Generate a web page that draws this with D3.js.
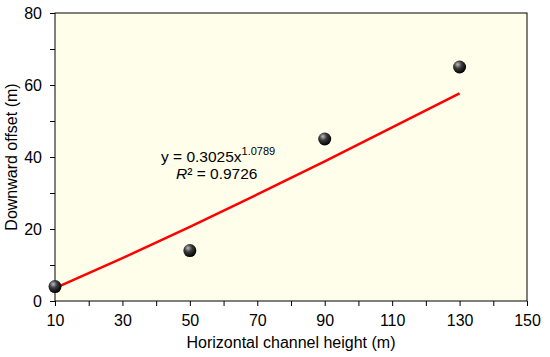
<!DOCTYPE html>
<html>
<head>
<meta charset="utf-8">
<script src="https://cdn.jsdelivr.net/npm/d3@7"></script>
<style>
  body { margin: 0; background: #fff; }
  text { font-family: "Liberation Sans", Arial, sans-serif; fill: #000; }
</style>
</head>
<body>
<div id="chart"></div>
<script>
'use strict';

var heights = [10, 50, 90, 130];
var offsets = [4, 14, 45, 65];
// trendline points as drawn (y = 0.3025x^1.0789)
var fitX = [10, 30, 50, 70, 90, 110, 130];
var fitY = [3.6, 11.9, 20.6, 29.6, 38.8, 48.2, 57.7];
var xTicks = [10, 30, 50, 70, 90, 110, 130, 150];
var yTicks = [0, 20, 40, 60, 80];

var width = 550, height = 357;
var margin = { top: 13, right: 23, bottom: 56, left: 55 };

var svg = d3.select('#chart').append('svg')
    .attr('width', width)
    .attr('height', height);

var defs = svg.append('defs');
var grad = defs.append('radialGradient')
    .attr('id', 'ball')
    .attr('cx', '40%').attr('cy', '35%').attr('r', '65%')
    .attr('fx', '35%').attr('fy', '30%');
grad.append('stop').attr('offset', '0%').attr('stop-color', '#bdbdbd');
grad.append('stop').attr('offset', '45%').attr('stop-color', '#3a3a3a');
grad.append('stop').attr('offset', '100%').attr('stop-color', '#000');

var x = d3.scaleLinear().domain([10, 150]).range([margin.left, width - margin.right]);
var y = d3.scaleLinear().domain([0, 80]).range([height - margin.bottom, margin.top]);

svg.append('rect')
    .attr('x', x(10)).attr('y', y(80))
    .attr('width', x(150) - x(10)).attr('height', y(0) - y(80))
    .attr('fill', '#fffeeb')
    .attr('stroke', '#000')
    .attr('stroke-width', 1);

var xAxis = svg.append('g')
    .attr('transform', 'translate(0,' + y(0) + ')')
    .call(d3.axisBottom(x).tickValues(d3.range(10, 151, 10)).tickSize(5)
        .tickFormat(function(d) { return xTicks.indexOf(d) >= 0 ? d : ''; }));

var yAxis = svg.append('g')
    .attr('transform', 'translate(' + x(10) + ',0)')
    .call(d3.axisLeft(y).tickValues(d3.range(0, 81, 10)).tickSize(5)
        .tickFormat(function(d) { return yTicks.indexOf(d) >= 0 ? d : ''; }));

[xAxis, yAxis].forEach(function(g) {
    g.select('.domain').remove();
    g.selectAll('line').attr('stroke', '#000');
    g.selectAll('text').style('font-size', '16px')
        .style('font-family', '"Liberation Sans", Arial, sans-serif');
});
xAxis.selectAll('text').attr('dy', '1.06em');
yAxis.selectAll('text').attr('x', -13);

// trendline
var line = d3.line()
    .x(function(d, i) { return x(fitX[i]); })
    .y(function(d) { return y(d); });
svg.append('path')
    .datum(fitY)
    .attr('d', line)
    .attr('fill', 'none')
    .attr('stroke', '#ff0000')
    .attr('stroke-width', 2.5);

svg.selectAll('circle.pt')
    .data(heights)
    .enter().append('circle')
    .attr('class', 'pt')
    .attr('cx', function(d) { return x(d); })
    .attr('cy', function(d, i) { return y(offsets[i]); })
    .attr('r', 6.5)
    .attr('fill', 'url(#ball)');

var eq = svg.append('text')
    .attr('x', 161).attr('y', 162)
    .style('font-size', '15.5px');
eq.append('tspan').text('y = 0.3025x');
eq.append('tspan').attr('dy', -7).style('font-size', '11px').text('1.0789');

var r2 = svg.append('text')
    .attr('x', 176).attr('y', 179)
    .style('font-size', '15.5px');
r2.append('tspan').style('font-style', 'italic').text('R');
r2.append('tspan').text('² = 0.9726');

svg.append('text')
    .attr('x', (x(10) + x(150)) / 2).attr('y', 348)
    .attr('text-anchor', 'middle')
    .style('font-size', '16px')
    .text('Horizontal channel height (m)');

svg.append('text')
    .attr('transform', 'translate(17,' + (y(0) + y(80)) / 2 + ') rotate(-90)')
    .attr('text-anchor', 'middle')
    .style('font-size', '16px')
    .text('Downward offset (m)');
</script>
</body>
</html>
